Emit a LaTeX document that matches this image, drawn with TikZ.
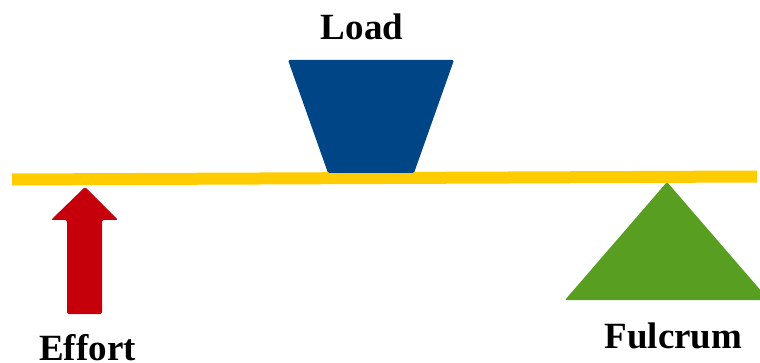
\documentclass[tikz,border=0pt]{standalone}
\usepackage{fontspec}
\setmainfont{Liberation Serif}
\definecolor{beamyellow}{RGB}{255,204,0}
\definecolor{effortred}{RGB}{197,0,11}
\definecolor{loadblue}{RGB}{0,70,135}
\definecolor{fulcrumgreen}{RGB}{88,158,32}
\begin{document}
\begin{tikzpicture}[x=1pt,y=-1pt,
  caption/.style={font=\fontsize{37}{44}\selectfont\bfseries, inner sep=0pt, anchor=base}]
\useasboundingbox (0,0) rectangle (760,363);
\begin{scope}
\clip (0,0) rectangle (760,363);
% lever bar
\coordinate (beamL) at (12,179.5);
\coordinate (beamR) at (757,176.5);
\draw[beamyellow, line width=12pt] (beamL) -- (beamR);
% load block
\fill[loadblue, rounded corners=1.5pt] (288,60) -- (454,60) -- (414,173) -- (328,173) -- cycle;
% effort arrow
\fill[effortred, rounded corners=2pt] (85,187) -- (118,220) -- (102,220) -- (102,314)
  -- (67,314) -- (67,220) -- (51,220) -- cycle;
% fulcrum
\fill[fulcrumgreen, rounded corners=1pt] (667,182) -- (769,300) -- (565,300) -- cycle;
\end{scope}
% labels
\node[caption] (load) at (362,40) {Load};
\node[caption] (effort) at (87.5,360) {Effort};
\node[caption] (fulcrum) at (673.5,348) {Fulcrum};
\end{tikzpicture}
\end{document}
